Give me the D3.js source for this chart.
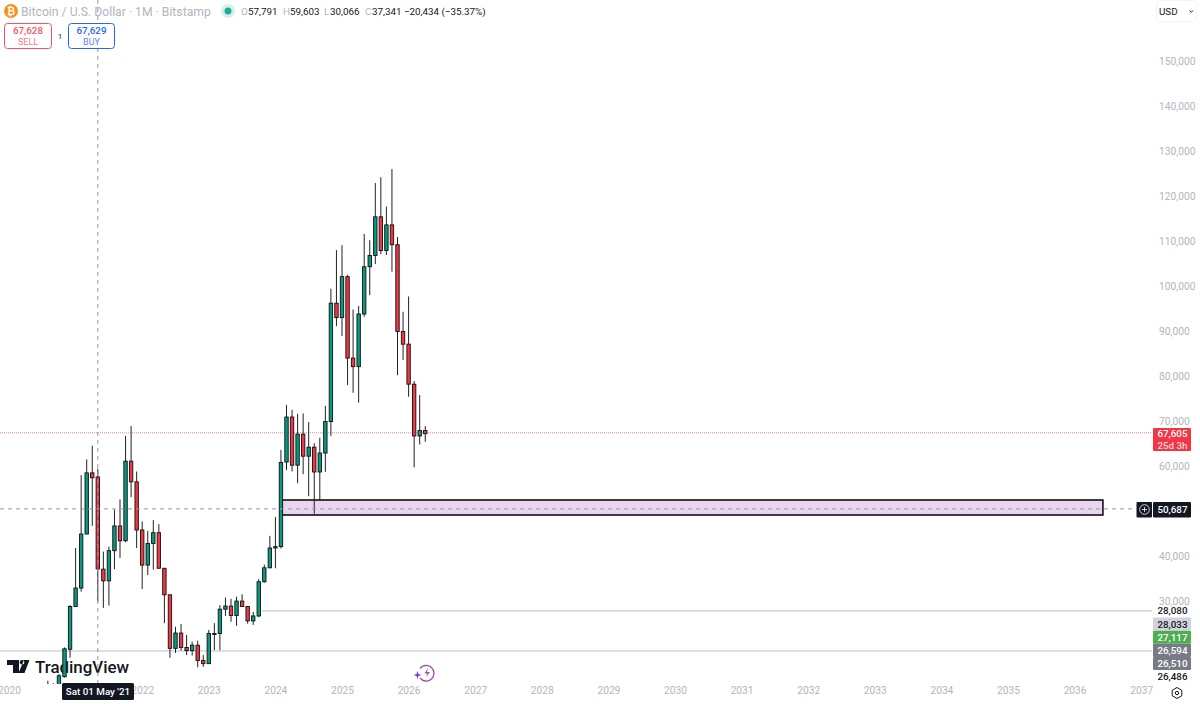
<!DOCTYPE html>
<html>
<head>
<meta charset="utf-8">
<script src="https://cdnjs.cloudflare.com/ajax/libs/d3/7.8.5/d3.min.js"></script>
<style>
html, body { margin: 0; padding: 0; background: #fff; overflow: hidden; }
text { font-family: Roboto, sans-serif; font-size: 9.8px; }
</style>
</head>
<body>
<div id="chart"></div>
<script>
// monthly candles from Aug 2020 to Apr 2026, in thousands of USD
const firstMonth = 7; // months after Jan 2020
const opens  = [11.3,11.6,10.8,13.4,19.5,29,33.1,45.1,58.7,57.791,37.3,34.7,41.4,46.9,43.6,61.3,56.7,46,38.2,43,45.4,37.5,31.6,19.7,23.1,19.9,19.2,20.4,17,16.3,23,23,28.4,29.1,27,30.2,29,25.8,26.9,34.5,37.6,42,42.3,61.1,71.1,60.4,67.3,62.4,64.4,58.9,63.1,70.1,96.4,93.2,102.3,84.2,82.3,94,104.5,107,115.6,108.1,113.8,109.4,90.1,87.3,78.4,66.9,68.1];
const highs  = [12.5,11.95,14,19.9,29.3,42,58.2,61.7,64.7,59.603,41.2,42.3,50.5,52.8,66.9,69.1,59,47.9,45.8,48.2,47.3,37.5,31.6,24.5,25.1,22.7,21.2,21.4,18.2,23.8,25.3,29.3,31,30.7,31.2,31.7,29.1,27.8,35.1,38.3,44.7,48.9,63.8,73.8,72.7,71.8,71.9,70,65.3,66.5,73.6,99.6,108.2,109.3,102.7,95,95.8,111.8,110.4,123.1,124.4,117.9,126.2,111.1,94.5,97.9,79.1,76,69.1];
const lows   = [11.2,9.9,10.4,13.2,17.6,28.9,32.3,45.1,46.9,30.066,28.7,29.2,37.3,39.8,43.3,53.3,42,32.9,36,37.2,37.5,25.3,17.6,18.7,19.2,18.2,18.1,15.5,15.6,16.3,19.3,19.3,26.9,25.6,24.7,29,25.2,24.9,26.6,34.3,37.5,37.5,41.9,59.3,59,56.4,58.4,53.5,49.6,52.7,58.9,66.9,91.3,89.1,78.2,76.5,74.3,93.4,98.2,105.1,107.3,107.1,103.4,80.4,83.8,75.6,59.9,65,65.6];
const closes = [11.6,10.8,13.6,19.6,29,33.1,45.1,58.7,57.6,37.341,34.7,41.4,46.9,43.6,61.3,56.7,46,38.2,43,45.4,37.5,31.6,19.7,23.1,19.9,19.2,20.4,17,16.3,23,22.8,28.4,29.1,27,30.2,29,25.8,26.9,34.5,37.6,42,42.3,61,71.1,60.4,67.3,62.4,64.4,58.9,63.1,70.1,96.4,93.2,102.3,84.2,82.3,94,104.5,107,115.6,108.1,113.8,109.4,90.1,87.3,78.4,66.9,68.1,67.4];

const priceTicks = [150000,140000,130000,120000,110000,100000,90000,80000,70000,60000,40000,30000];
const yearTicks = [2020,2022,2023,2024,2025,2026,2027,2028,2029,2030,2031,2032,2033,2034,2035,2036,2037];

const lastPrice = 67605;
const crossPrice = 50687;
const crossMonth = 16;
const zonePrices = [49333, 52667];
const zoneMonths = [49.2, 197.1];
const levelLines = [{ price: 28080, from: 45.6 }, { price: 19110, from: -2 }];
const stackedLabels = [
  { text: "28,080", bg: null, fg: "#131722" },
  { text: "28,033", bg: "#d1d4dc", fg: "#131722" },
  { text: "27,117", bg: "#4caf50", fg: "#ffffff" },
  { text: "26,594", bg: "#787b86", fg: "#ffffff" },
  { text: "26,510", bg: "#787b86", fg: "#ffffff" },
  { text: "26,486", bg: null, fg: "#131722" }
];
const ohlc = [["O", 241, "57,791", 248], ["H", 283, "59,603", 290], ["L", 324, "30,066", 330], ["C", 365, "37,341", 372]];

const width = 1200, height = 704, plotRight = 1152, plotBottom = 684;
const grey = "#b2b5be", ink = "#131722";

const x = d3.scaleLinear().domain([0, 12]).range([9, 75.6]);
const y = d3.scaleLinear().domain([30000, 150000]).range([602, 62]);

const svg = d3.select("#chart").append("svg")
  .attr("width", width).attr("height", height)
  .style("display", "block");

svg.append("clipPath").attr("id", "plot")
  .append("rect").attr("width", plotRight).attr("height", plotBottom);

// logo sits under the candles
svg.append("path").attr("d", "M7 660h12v13h-6v-8h-6zM24 660h5.5l-5 13h-6zM22 660a2.3 2.3 0 1 0 .01 0z").attr("fill", ink);
svg.append("text").attr("x", 35).attr("y", 673).attr("fill", ink)
  .style("font-size", "16.9px").style("font-weight", 500).text("TradingView");

const plot = svg.append("g").attr("clip-path", "url(#plot)");

// level lines
plot.selectAll(".level").data(levelLines).enter().append("line")
  .attr("x1", d => x(d.from)).attr("x2", plotRight)
  .attr("y1", d => y(d.price)).attr("y2", d => y(d.price))
  .attr("stroke", "#d1d4dc").attr("stroke-width", 1.5);

// last price line
plot.append("line")
  .attr("x1", 0).attr("x2", plotRight)
  .attr("y1", y(lastPrice)).attr("y2", y(lastPrice))
  .attr("stroke", "#f23645").attr("stroke-opacity", 0.6).attr("stroke-dasharray", "1 1");

// purple zone
plot.append("rect")
  .attr("x", x(zoneMonths[0])).attr("width", x(zoneMonths[1]) - x(zoneMonths[0]))
  .attr("y", y(zonePrices[1])).attr("height", y(zonePrices[0]) - y(zonePrices[1]))
  .attr("fill", "#e9d5f0").attr("stroke", "#111").attr("stroke-width", 1.6);

// candles
const candles = opens.map((o, i) => ({ i: i + firstMonth, o, h: highs[i], l: lows[i], c: closes[i] }));
const bars = plot.selectAll(".candle").data(candles).enter().append("g").attr("class", "candle");
bars.append("line")
  .attr("x1", d => x(d.i)).attr("x2", d => x(d.i))
  .attr("y1", d => y(d.h * 1000)).attr("y2", d => y(d.l * 1000))
  .attr("stroke", "#222").attr("stroke-width", 1);
bars.append("rect")
  .attr("x", d => x(d.i) - 1.7).attr("width", 3.4)
  .attr("y", d => y(Math.max(d.o, d.c) * 1000))
  .attr("height", d => Math.max(1, Math.abs(y(d.o * 1000) - y(d.c * 1000))))
  .attr("fill", d => d.c >= d.o ? "#089981" : "#f23645")
  .attr("stroke", "#111").attr("stroke-width", 0.9);

// crosshair
const cross = { stroke: "#9598a1", dash: "4 4" };
svg.append("line")
  .attr("x1", 0).attr("x2", 1136).attr("y1", y(crossPrice)).attr("y2", y(crossPrice))
  .attr("stroke", cross.stroke).attr("stroke-dasharray", cross.dash);
svg.append("line")
  .attr("x1", x(crossMonth)).attr("x2", x(crossMonth)).attr("y1", 0).attr("y2", plotBottom)
  .attr("stroke", cross.stroke).attr("stroke-dasharray", cross.dash);

// price axis
const yAxis = svg.append("g").attr("transform", "translate(1159,-0.5)")
  .call(d3.axisRight(y).tickValues(priceTicks).tickFormat(d3.format(",")).tickSize(0).tickPadding(0));
yAxis.select(".domain").remove();
yAxis.selectAll("text").attr("fill", grey).style("font-size", "10.2px").style("font-family", "Roboto, sans-serif");

// time axis
const xAxis = svg.append("g").attr("transform", "translate(0,686.5)")
  .call(d3.axisBottom(d3.scaleLinear().domain([2020, 2037]).range([x(0), x(204)]))
    .tickValues(yearTicks).tickFormat(d3.format("d")).tickSize(0).tickPadding(0));
xAxis.select(".domain").remove();
xAxis.selectAll("text").attr("fill", grey).style("font-size", "10.2px").style("font-family", "Roboto, sans-serif");

// labels on the price axis
function tag(xp, yp, w, h, bg, fg, lines) {
  const g = svg.append("g");
  if (bg) g.append("rect").attr("x", xp).attr("y", yp).attr("width", w).attr("height", h).attr("fill", bg).attr("rx", 1);
  lines.forEach((t, i) => {
    g.append("text").attr("x", xp + w / 2 + 0.5).attr("y", yp + (h / lines.length) * (i + 0.5) + 3.4)
      .attr("text-anchor", "middle").attr("fill", i ? "#ffd6da" : fg)
      .style("font-weight", 500).text(t);
  });
  return g;
}
tag(1153, 428, 38, 23, "#f23645", "#fff", ["67,605", "25d 3h"]);
tag(1153, 502, 38, 15.5, ink, "#fff", ["50,687"]);
stackedLabels.forEach((d, i) => tag(1153, 604.5 + i * 13.1, 38, 13.1, d.bg, d.fg, [d.text]));

// plus button next to the crosshair price
svg.append("rect").attr("x", 1136.5).attr("y", 502).attr("width", 15.5).attr("height", 15.5).attr("fill", ink).attr("rx", 1);
svg.append("circle").attr("cx", 1144.5).attr("cy", 509.5).attr("r", 4.8).attr("fill", "none").attr("stroke", "#fff").attr("stroke-width", 0.8);
svg.append("path").attr("d", "M1142 509.5h5M1144.5 507v5").attr("stroke", "#fff").attr("stroke-width", 0.8);

// crosshair date label
svg.append("rect").attr("x", 62).attr("y", 683).attr("width", 72).attr("height", 17).attr("fill", ink).attr("rx", 1.5);
svg.append("text").attr("x", 98).attr("y", 695.3).attr("text-anchor", "middle").attr("fill", "#fff")
  .style("font-weight", 500).text("Sat 01 May '21");

// header
svg.append("circle").attr("cx", 11).attr("cy", 11).attr("r", 7).attr("fill", "#f7931a");
svg.append("text").attr("x", 11).attr("y", 14.5).attr("text-anchor", "middle").attr("fill", "#fff")
  .style("font-size", "10px").style("font-weight", 700).text("₿");
svg.append("text").attr("x", 21).attr("y", 15.5).attr("fill", grey).style("font-size", "12.2px")
  .text("Bitcoin / U.S. Dollar · 1M · Bitstamp");
svg.append("circle").attr("cx", 228).attr("cy", 11).attr("r", 7).attr("fill", "#d5f0ea");
svg.append("circle").attr("cx", 228).attr("cy", 11).attr("r", 3.5).attr("fill", "#22ab94");
ohlc.forEach(d => {
  svg.append("text").attr("x", d[1]).attr("y", 14.5).attr("fill", grey).text(d[0]);
  svg.append("text").attr("x", d[3]).attr("y", 14.5).attr("fill", ink).text(d[2]);
});
svg.append("text").attr("x", 404).attr("y", 14.5).attr("fill", ink).text("−20,434 (−35.37%)");

// sell and buy buttons
function orderBox(xp, w, colour, price, side) {
  svg.append("rect").attr("x", xp).attr("y", 23.5).attr("width", w).attr("height", 25).attr("rx", 3)
    .attr("fill", "#fff").attr("stroke", colour);
  svg.append("text").attr("x", xp + w / 2).attr("y", 34).attr("text-anchor", "middle").attr("fill", colour)
    .style("font-weight", 500).text(price);
  svg.append("text").attr("x", xp + w / 2).attr("y", 45).attr("text-anchor", "middle").attr("fill", colour)
    .attr("fill-opacity", 0.8).style("font-size", "9px").text(side);
}
orderBox(4.5, 47, "#f7525f", "67,628", "SELL");
orderBox(68.5, 46, "#2962ff", "67,629", "BUY");
svg.append("text").attr("x", 60).attr("y", 39).attr("text-anchor", "middle").attr("fill", ink).style("font-size", "8px").text("1");

// currency button
svg.append("rect").attr("x", 1156.5).attr("y", 0.5).attr("width", 40).attr("height", 21).attr("rx", 3)
  .attr("fill", "#fff").attr("stroke", "#f0f3fa");
svg.append("text").attr("x", 1159).attr("y", 15).attr("fill", ink).text("USD");
svg.append("path").attr("d", "M1189.5 10.5l1.8 1.8l1.8-1.8").attr("fill", "none").attr("stroke", ink);

// lightning badge
svg.append("path").attr("d", "M420 668.5a7.8 7.8 0 1 1 0 9.5").attr("fill", "none").attr("stroke", "#ab47bc").attr("stroke-width", 1.3);
svg.append("path").attr("d", "M428 668l-3.5 5.5h3l-1.5 4l4-5.5h-3z").attr("fill", "#ab47bc");
svg.append("path").attr("d", "M417.5 671l1 3l3 1l-3 1l-1 3l-1-3l-3-1l3-1z").attr("fill", "#7b3fe4");

// settings
svg.append("path").attr("d", "M1177 687.5l4.8 2.8v5.4l-4.8 2.8l-4.8-2.8v-5.4z").attr("fill", "none").attr("stroke", ink);
svg.append("circle").attr("cx", 1177).attr("cy", 693).attr("r", 1.7).attr("fill", "none").attr("stroke", ink);
</script>
</body>
</html>
